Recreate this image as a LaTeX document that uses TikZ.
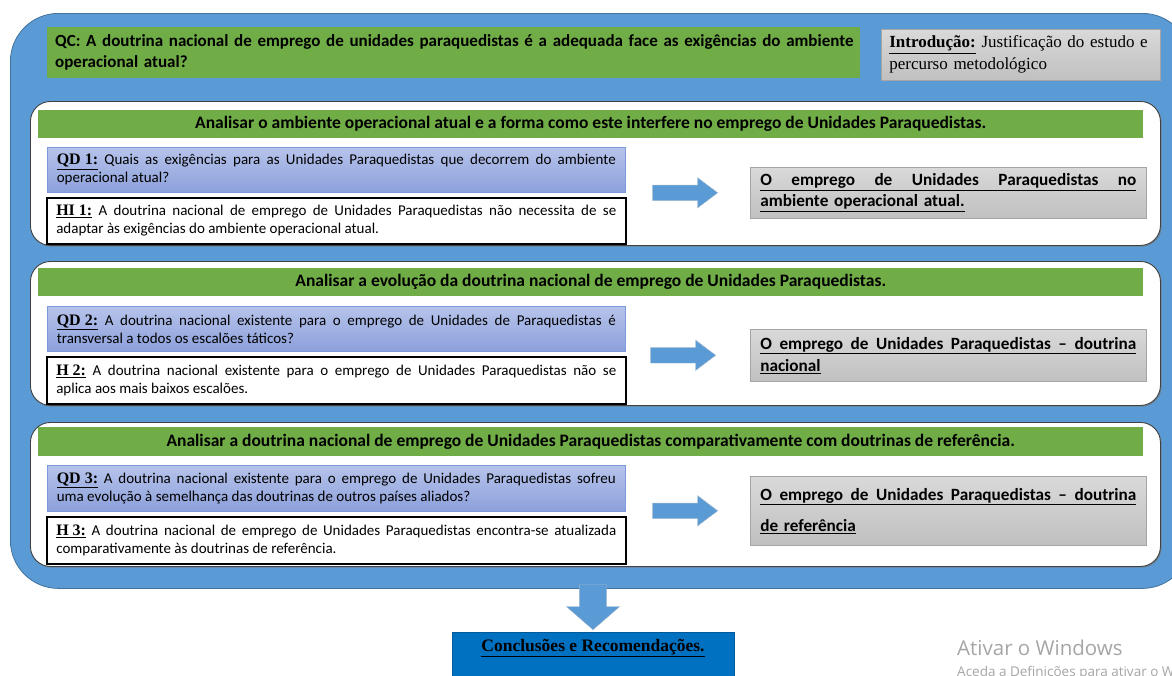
\documentclass[tikz,border=0pt]{standalone}
\usepackage{fontspec}
\setmainfont{Carlito}
\newfontfamily\tnr{Liberation Serif}
\newfontfamily\winfont{Open Sans}
\usetikzlibrary{positioning,calc,shapes.arrows,shadows}
\definecolor{framblue}{RGB}{91,155,213}
\definecolor{framedge}{RGB}{65,113,156}
\definecolor{hdgreen}{RGB}{112,173,71}
\definecolor{qdtop}{RGB}{182,195,235}
\definecolor{qdbot}{RGB}{140,160,218}
\definecolor{qdedge}{RGB}{125,155,218}
\definecolor{restop}{RGB}{217,217,217}
\definecolor{resbot}{RGB}{192,192,192}
\definecolor{resedge}{RGB}{165,165,165}
\definecolor{conblue}{RGB}{0,112,192}
\definecolor{wmgray}{RGB}{165,165,165}

\newcommand{\lbl}[1]{{\tnr\fontsize{16}{18}\selectfont\bfseries\underline{#1}}}
\newcommand{\fullline}[1]{\underline{\hbox to 376pt{#1}}}

\begin{document}
\begin{tikzpicture}[
    x=1pt,y=-1pt,
    inner sep=0pt,
    node distance=4pt
]

\tikzset{
    frm/.style={
        rounded corners=48pt,
        fill=framblue,
        draw=framedge,
        line width=0.8pt,
        anchor=north west
    },
    panel/.style={
        rounded corners=20pt,
        fill=white,
        draw=black!75,
        line width=0.9pt,
        minimum width=1130pt,
        minimum height=144pt,
        anchor=north west,
        drop shadow={shadow xshift=1.2pt,shadow yshift=-1.2pt,fill=black!55,opacity=0.6}
    },
    hdr/.style={
        fill=hdgreen,
        minimum width=1105pt,
        anchor=north west,
        align=center,
        font=\fontsize{17.5}{20}\selectfont\bfseries
    },
    qd/.style={
        top color=qdtop,
        bottom color=qdbot,
        draw=qdedge,
        line width=0.6pt,
        text width=559pt,
        inner xsep=9.5pt,
        anchor=north west,
        align=justify,
        font=\fontsize{15}{18}\selectfont
    },
    hyp/.style={
        fill=white,
        draw=black,
        line width=2.2pt,
        text width=560pt,
        inner xsep=9.5pt,
        align=justify,
        font=\fontsize{15}{18}\selectfont
    },
    res/.style={
        top color=restop,
        bottom color=resbot,
        draw=resedge,
        line width=0.6pt,
        text width=376pt,
        inner xsep=10pt,
        minimum width=396pt,
        anchor=north west,
        align=left
    },
    fatarrow/.style={
        single arrow,
        fill=framblue,
        draw=framedge!50,
        line width=0.4pt,
        inner xsep=0pt,
        inner ysep=7.5pt,
        minimum height=65pt,
        single arrow head extend=7.5pt,
        single arrow tip angle=74,
        anchor=tip
    }
}

\clip (0,0) rectangle (1172,675);
\useasboundingbox (0,0) rectangle (1172,675);

\node[
    frm,
    minimum width=1180pt,
    minimum height=575pt
] (frame) at (10,13) {};

\node[
    fill=hdgreen,
    minimum width=813pt,
    minimum height=51pt,
    text width=797pt,
    inner xsep=8pt,
    anchor=north west,
    align=left,
    font=\fontsize{17}{21}\selectfont\bfseries
] (qc) at (47,27)
{\mbox{QC: A doutrina nacional de emprego de unidades paraquedistas é a adequada face as exigências do ambiente}\\operacional atual?};

\node[
    top color=restop,
    bottom color=resbot,
    draw=resedge,
    line width=0.6pt,
    minimum width=279pt,
    minimum height=51pt,
    text width=263pt,
    inner xsep=8pt,
    anchor=north west,
    align=left,
    font=\tnr\fontsize{17}{22}\selectfont
] (intro) at (881,29)
{\textbf{\underline{Introdução:}} Justificação do estudo e\\percurso metodológico};

% first block
\node[panel] (pnl1) at (30,101) {};

\node[hdr, minimum height=28pt] (hdr1) at (38,110)
{Analisar o ambiente operacional atual e a forma como este interfere no emprego de Unidades Paraquedistas.};

\node[qd, minimum height=45pt] (qd1) at (47,147)
{\lbl{QD 1:} Quais as exigências para as Unidades Paraquedistas que decorrem do ambiente\linebreak operacional atual?};

\node[hyp, minimum height=46pt, below=of qd1] (hi1)
{\lbl{HI 1:} A doutrina nacional de emprego de Unidades Paraquedistas não necessita de se\linebreak adaptar às exigências do ambiente operacional atual.};

\node[
    res,
    minimum height=51pt,
    font=\fontsize{17.2}{21}\selectfont\bfseries
] (res1) at (750,167)
{\fullline{O\hfill emprego\hfill de\hfill Unidades\hfill Paraquedistas\hfill no}\\\underline{ambiente operacional atual.}};

\node[fatarrow] (arr1) at ($(res1.west)+(-32,0)$) {};

% second block
\node[panel] (pnl2) at (30,261) {};

\node[hdr, minimum height=28pt] (hdr2) at (38,268)
{Analisar a evolução da doutrina nacional de emprego de Unidades Paraquedistas.};

\node[qd, minimum height=45pt] (qd2) at (47,306)
{\lbl{QD 2:} A doutrina nacional existente para o emprego de Unidades de Paraquedistas é\linebreak transversal a todos os escalões táticos?};

\node[hyp, minimum height=47pt, below=of qd2] (hi2)
{\lbl{H 2:} A doutrina nacional existente para o emprego de Unidades Paraquedistas não se\linebreak aplica aos mais baixos escalões.};

\node[
    res,
    minimum height=52pt,
    font=\fontsize{17.2}{22}\selectfont\bfseries
] (res2) at (750,329)
{\fullline{O\hfill emprego\hfill de\hfill Unidades\hfill Paraquedistas\hfill --\hfill doutrina}\\\underline{nacional}};

\node[fatarrow] (arr2) at ($(res2.west)+(-34,0)$) {};

% third block
\node[panel] (pnl3) at (30,422) {};

\node[hdr, minimum height=29pt] (hdr3) at (38,427)
{Analisar a doutrina nacional de emprego de Unidades Paraquedistas comparativamente com doutrinas de referência.};

\node[qd, minimum height=46pt] (qd3) at (47,465)
{\lbl{QD 3:} A doutrina nacional existente para o emprego de Unidades Paraquedistas sofreu\linebreak uma evolução à semelhança das doutrinas de outros países aliados?};

\node[hyp, minimum height=47pt, below=of qd3] (hi3)
{\lbl{H 3:} A doutrina nacional de emprego de Unidades Paraquedistas encontra-se atualizada\linebreak comparativamente às doutrinas de referência.};

\node[
    res,
    minimum height=69pt,
    font=\fontsize{17.2}{31}\selectfont\bfseries
] (res3) at (750,476)
{\fullline{O\hfill emprego\hfill de\hfill Unidades\hfill Paraquedistas\hfill --\hfill doutrina}\\\underline{de referência}};

\node[fatarrow] (arr3) at ($(res3.west)+(-32,0)$) {};

% conclusion
\node[
    fill=conblue,
    draw=conblue!80!black,
    line width=0.4pt,
    minimum width=282pt,
    inner ysep=6pt,
    text height=13pt,
    text depth=31pt,
    anchor=north,
    font=\tnr\fontsize{17.5}{20}\selectfont\bfseries
] (concl) at (593,632)
{\underline{Conclusões e Recomendações.}};

\node[
    fatarrow,
    rotate=-90,
    minimum height=45pt,
    inner ysep=13.5pt,
    single arrow head extend=13pt,
    single arrow tip angle=98
] (arrdn) at ($(concl.north)+(0,-2)$) {};

% watermark
\node[anchor=west, text=wmgray, font=\winfont\fontsize{20.5}{22}\selectfont] (wm1) at (957,648)
{Ativar o Windows};
\node[anchor=west, text=wmgray, font=\winfont\fontsize{13.5}{15}\selectfont] (wm2) at (957,673)
{Aceda a Definições para ativar o Windows.};

\end{tikzpicture}
\end{document}
